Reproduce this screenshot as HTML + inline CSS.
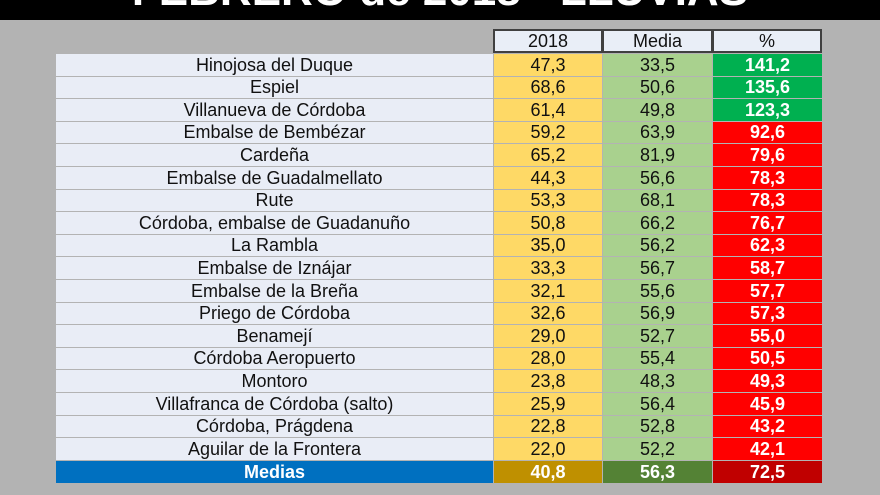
<!DOCTYPE html><html><head><style>
body{margin:0;width:880px;height:495px;background:#b3b3b3;overflow:hidden;position:relative;font-family:"Liberation Sans",Arial,sans-serif}
#top{position:absolute;left:0;top:0;width:880px;height:20px;background:#000;overflow:hidden}
#top div{position:absolute;left:0;width:880px;top:-31px;text-align:center;color:#fff;font-weight:bold;font-size:44px;line-height:44px}
.c{position:absolute;text-align:center;font-size:18px;color:#111;box-sizing:border-box;transform-origin:center}
.h{background:#e9eef7;border:2px solid #404040;top:29px;height:24px;line-height:21px}
</style></head><body>
<div id="top"><div>FEBRERO de 2018 - LLUVIAS</div></div>
<div class="c h" style="left:493px;width:110px">2018</div>
<div class="c h" style="left:602px;width:111px">Media</div>
<div class="c h" style="left:712px;width:110px">%</div>
<div id="rows"></div>
<script>
var d=[["Hinojosa del Duque","47,3","33,5","141,2",1],["Espiel","68,6","50,6","135,6",1],["Villanueva de Córdoba","61,4","49,8","123,3",1],["Embalse de Bembézar","59,2","63,9","92,6"],["Cardeña","65,2","81,9","79,6"],["Embalse de Guadalmellato","44,3","56,6","78,3"],["Rute","53,3","68,1","78,3"],["Córdoba, embalse de Guadanuño","50,8","66,2","76,7"],["La Rambla","35,0","56,2","62,3"],["Embalse de Iznájar","33,3","56,7","58,7"],["Embalse de la Breña","32,1","55,6","57,7"],["Priego de Córdoba","32,6","56,9","57,3"],["Benamejí","29,0","52,7","55,0"],["Córdoba Aeropuerto","28,0","55,4","50,5"],["Montoro","23,8","48,3","49,3"],["Villafranca de Córdoba (salto)","25,9","56,4","45,9"],["Córdoba, Prágdena","22,8","52,8","43,2"],["Aguilar de la Frontera","22,0","52,2","42,1"]];
var h="";
function cell(l,w,t,hh,bg,col,txt,b){return '<div class="c" style="left:'+l+'px;width:'+w+'px;top:'+t+'px;height:'+hh+'px;line-height:'+hh+'px;background:'+bg+';color:'+col+';'+(b?'font-weight:bold;':'')+'">'+txt+'</div>';}
for(var i=0;i<19;i++){var t=Math.round(54+i*22.6),hh=Math.round(54+(i+1)*22.6)-t-1;
if(i<18){var r=d[i];
h+=cell(56,437,t,hh,"#e9edf6","#111",r[0]);
h+=cell(494,108,t,hh,"#fed966","#111",r[1]);
h+=cell(603,109,t,hh,"#a9d18e","#111",r[2]);
h+=cell(713,109,t,hh,r[4]?"#00b050":"#ff0000","#fff",r[3],1);}
else{h+=cell(56,437,t,hh+1,"#0070c0","#fff","Medias",1);
h+=cell(494,108,t,hh+1,"#bf9000","#fff","40,8",1);
h+=cell(603,109,t,hh+1,"#548235","#fff","56,3",1);
h+=cell(713,109,t,hh+1,"#c00000","#fff","72,5",1);}}
document.getElementById("rows").innerHTML=h;
</script>
</body></html>
